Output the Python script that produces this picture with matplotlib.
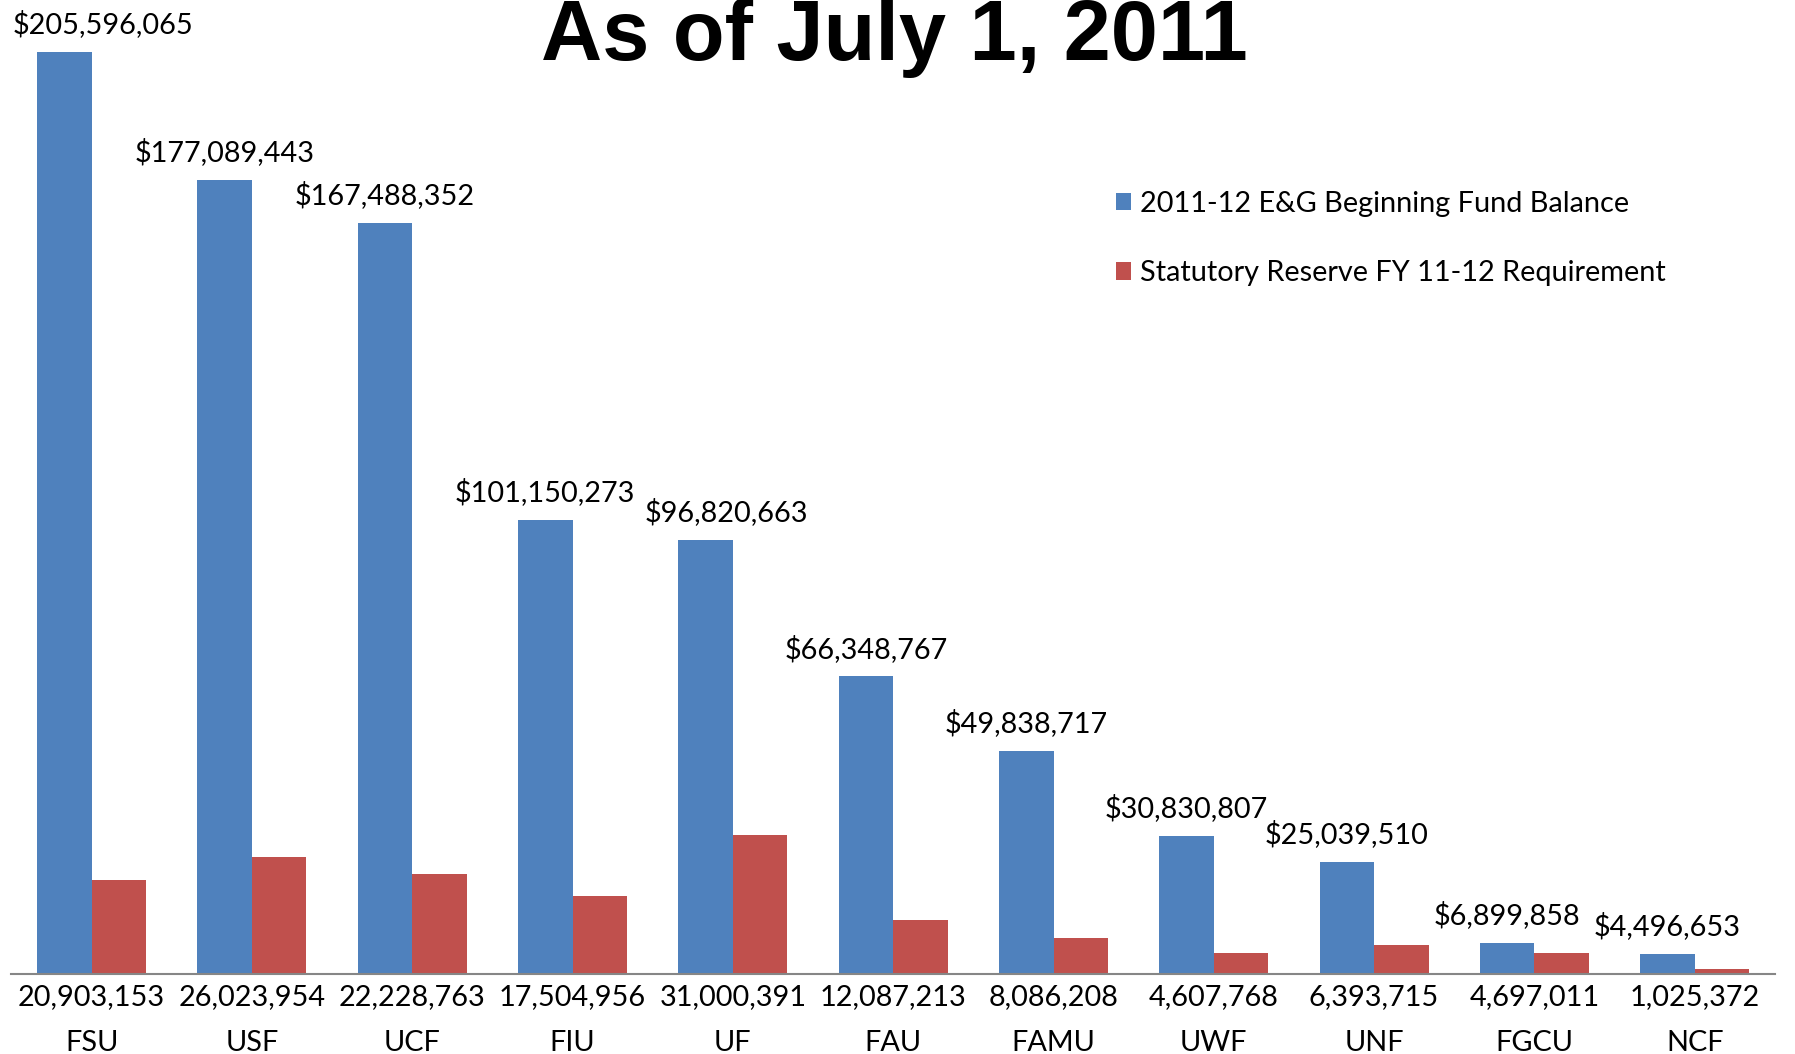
import matplotlib.pyplot as plt
import numpy as np

# datos
universidades = ["FSU", "USF", "UCF", "FIU", "UF", "FAU", "FAMU", "UWF", "UNF", "FGCU", "NCF"]
saldo_inicial = [205596065, 177089443, 167488352, 101150273, 96820663, 66348767,
                 49838717, 30830807, 25039510, 6899858, 4496653]
reserva = [20903153, 26023954, 22228763, 17504956, 31000391, 12087213,
           8086208, 4607768, 6393715, 4697011, 1025372]

azul = "#4F81BD"
rojo = "#C0504D"

plt.rcParams['font.family'] = ['Lato', 'DejaVu Sans']

fig = plt.figure(figsize=(17.95, 10.54), dpi=100)
ax = fig.add_axes([0.0064, 0.0759, 0.9824, 0.9241])

x = np.arange(len(universidades))
w = 0.34
ax.bar(x - w/2, saldo_inicial, width=w, color=azul, label="2011-12 E&G Beginning Fund Balance")
ax.bar(x + w/2, reserva, width=w, color=rojo, label="Statutory Reserve FY 11-12 Requirement")

ax.set_xlim(-0.5, len(universidades) - 0.5)
ax.set_ylim(0, 217.2e6)

# etiquetas sobre las barras azules (como Excel: la primera pegada al borde, UF desplazada)
for i, v in enumerate(saldo_inicial):
    txt = "${:,}".format(v)
    if i == 0:
        ax.annotate(txt, (-0.5, v), xytext=(1, 10), textcoords="offset points",
                    ha="left", va="bottom", fontsize=20.8)
    else:
        dx = 15 if i == 4 else 0
        ax.annotate(txt, (x[i] - w/2, v), xytext=(dx, 10), textcoords="offset points",
                    ha="center", va="bottom", fontsize=20.8)

etiquetas = ["{:,}\n{}".format(r, u) for r, u in zip(reserva, universidades)]
ax.set_xticks(x)
ax.set_xticklabels(etiquetas, fontsize=20.8, linespacing=1.95)
ax.tick_params(axis="x", length=0, pad=7)
ax.set_yticks([])
for s in ["top", "left", "right"]:
    ax.spines[s].set_visible(False)
ax.spines["bottom"].set_color("#868686")
ax.spines["bottom"].set_linewidth(1.5)

fig.text(0.498, 0.943, "As of July 1, 2011", ha="center", va="baseline",
         fontsize=61, fontweight="bold", family=["Liberation Sans", "DejaVu Sans"])

fig.legend(loc="upper left", bbox_to_anchor=(0.6215, 0.819), frameon=False, fontsize=20.8,
           handlelength=0.55, handleheight=0.55, handletextpad=0.3, labelspacing=1.5,
           borderpad=0, borderaxespad=0)

plt.savefig("out.png", dpi=100)
